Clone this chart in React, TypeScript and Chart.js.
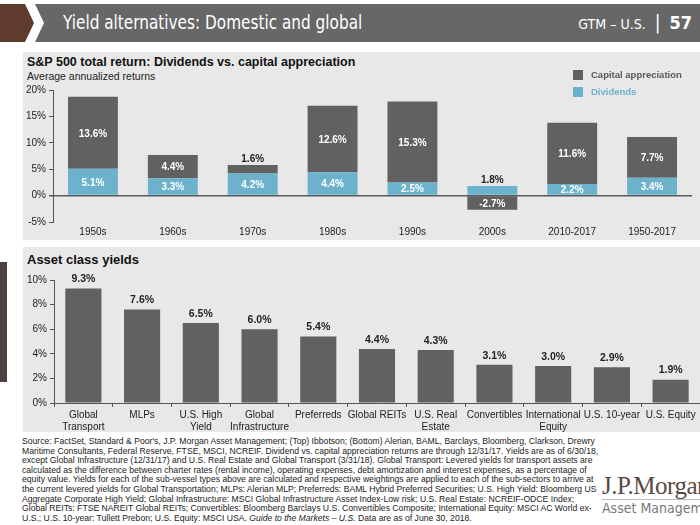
import React, { useEffect, useRef } from "react";
import { Chart, registerables } from "chart.js";
Chart.register(...registerables);

// ---------- data ----------
const decades = ["1950s", "1960s", "1970s", "1980s", "1990s", "2000s", "2010-2017", "1950-2017"];
const capitalAppreciation = [13.6, 4.4, 1.6, 12.6, 15.3, -2.7, 11.6, 7.7];
const dividends = [5.1, 3.3, 4.2, 4.4, 2.5, 1.8, 2.2, 3.4];
const returnTicks = [-5, 0, 5, 10, 15, 20];

const assetClasses: (string | string[])[] = [
  ["Global", "Transport"],
  "MLPs",
  ["U.S. High", "Yield"],
  ["Global", "Infrastructure"],
  "Preferreds",
  "Global REITs",
  ["U.S. Real", "Estate"],
  "Convertibles",
  ["International", "Equity"],
  "U.S. 10-year",
  "U.S. Equity",
];
const assetYields = [9.3, 7.6, 6.5, 6.0, 5.4, 4.4, 4.3, 3.1, 3.0, 2.9, 1.9];
const yieldTicks = [0, 2, 4, 6, 8, 10];

// ---------- styles ----------
const FONT = "'Liberation Sans', Arial, sans-serif";
const NARROW = "'Liberation Sans Narrow', 'DejaVu Sans Condensed', sans-serif";
const DARK = "#616161";
const BLUE = "#6cb2cd";
const AXIS = "#555555";
const TEXT = "#222222";
const PANEL = "#e8e8e8";

const topLabels = {
  id: "topLabels",
  afterDatasetsDraw(chart: any) {
    const ctx = chart.ctx;
    ctx.save();
    ctx.font = `bold 10px ${FONT}`;
    ctx.textAlign = "center";
    chart.data.datasets.forEach((ds: any, di: number) => {
      const meta = chart.getDatasetMeta(di);
      meta.data.forEach((el: any, i: number) => {
        const v = ds.data[i];
        const h = Math.abs(el.base - el.y);
        const txt = v.toFixed(1) + "%";
        if (h >= 10.5) {
          ctx.fillStyle = "#ffffff";
          ctx.textBaseline = "middle";
          ctx.fillText(txt, el.x, (el.y + el.base) / 2 + 1);
        } else {
          ctx.fillStyle = TEXT;
          ctx.textBaseline = "bottom";
          ctx.fillText(txt, el.x, Math.min(el.y, el.base) - 1);
        }
      });
    });
    ctx.restore();
  },
};

const bottomLabels = {
  id: "bottomLabels",
  afterDatasetsDraw(chart: any) {
    const ctx = chart.ctx;
    ctx.save();
    ctx.font = `bold 10.5px ${FONT}`;
    ctx.textAlign = "center";
    ctx.textBaseline = "bottom";
    ctx.fillStyle = TEXT;
    const ds = chart.data.datasets[0];
    chart.getDatasetMeta(0).data.forEach((el: any, i: number) => {
      ctx.fillText(ds.data[i].toFixed(1) + "%", el.x, el.y - 4);
    });
    ctx.restore();
  },
};

function TopChart() {
  const ref = useRef<HTMLCanvasElement>(null);
  useEffect(() => {
    const chart = new Chart(ref.current!, {
      type: "bar",
      data: {
        labels: decades,
        datasets: [
          { label: "Dividends", data: dividends, backgroundColor: BLUE, stack: "s" },
          { label: "Capital appreciation", data: capitalAppreciation, backgroundColor: DARK, stack: "s" },
        ],
      },
      options: {
        animation: false,
        responsive: false,
        maintainAspectRatio: false,
        layout: { padding: { top: 38, right: 8, bottom: 0, left: 0 } },
        datasets: { bar: { barPercentage: 0.625, categoryPercentage: 1 } },
        plugins: { legend: { display: false }, tooltip: { enabled: false } },
        scales: {
          x: {
            stacked: true,
            grid: { display: false, drawTicks: false },
            border: { display: false },
            ticks: { font: { family: FONT, size: 10 }, color: TEXT, padding: 4 },
            afterFit: (s: any) => {
              s.height = 18;
            },
          },
          y: {
            stacked: true,
            min: -5,
            max: 20,
            afterBuildTicks: (s: any) => {
              s.ticks = returnTicks.map((v) => ({ value: v }));
            },
            ticks: { font: { family: FONT, size: 10 }, color: TEXT, padding: 3, callback: (v: any) => v + "%" },
            grid: {
              color: (c: any) => (c.tick && c.tick.value === 0 ? "#5a5a5a" : "rgba(0,0,0,0)"),
              lineWidth: (c: any) => (c.tick && c.tick.value === 0 ? 1.5 : 1),
              tickColor: AXIS,
              tickLength: 4,
            },
            border: { display: true, color: AXIS },
            afterFit: (s: any) => {
              s.width = 30;
            },
          },
        },
      } as any,
      plugins: [topLabels],
    });
    return () => chart.destroy();
  }, []);
  return (
    <canvas
      ref={ref}
      width={677}
      height={188}
      style={{ position: "absolute", left: 23, top: 52, width: 677, height: 188 }}
    />
  );
}

function BottomChart() {
  const ref = useRef<HTMLCanvasElement>(null);
  useEffect(() => {
    const chart = new Chart(ref.current!, {
      type: "bar",
      data: {
        labels: assetClasses,
        datasets: [{ label: "Yield", data: assetYields, backgroundColor: DARK }],
      },
      options: {
        animation: false,
        responsive: false,
        maintainAspectRatio: false,
        layout: { padding: { top: 33, right: 0, bottom: 0, left: 0 } },
        datasets: { bar: { barPercentage: 0.615, categoryPercentage: 1 } },
        plugins: { legend: { display: false }, tooltip: { enabled: false } },
        scales: {
          x: {
            grid: { drawOnChartArea: false, drawTicks: true, tickLength: 4, tickColor: AXIS, offset: true },
            border: { display: true, color: AXIS },
            ticks: { font: { family: FONT, size: 10 }, color: TEXT, padding: 2, maxRotation: 0, autoSkip: false },
            afterFit: (s: any) => {
              s.height = 29;
            },
          },
          y: {
            min: 0,
            max: 10,
            afterBuildTicks: (s: any) => {
              s.ticks = yieldTicks.map((v) => ({ value: v }));
            },
            ticks: { font: { family: FONT, size: 10 }, color: TEXT, padding: 3, callback: (v: any) => v + "%" },
            grid: { drawOnChartArea: false, tickColor: AXIS, tickLength: 4 },
            border: { display: true, color: AXIS },
            afterFit: (s: any) => {
              s.width = 31;
            },
          },
        },
      } as any,
      plugins: [bottomLabels],
    });
    return () => chart.destroy();
  }, []);
  return (
    <canvas
      ref={ref}
      width={677}
      height={185}
      style={{ position: "absolute", left: 23, top: 247, width: 677, height: 185 }}
    />
  );
}

const footerLines: React.ReactNode[] = [
  "Source: FactSet, Standard & Poor's, J.P. Morgan Asset Management; (Top) Ibbotson; (Bottom) Alerian, BAML, Barclays, Bloomberg, Clarkson, Drewry",
  "Maritime Consultants, Federal Reserve, FTSE, MSCI, NCREIF. Dividend vs. capital appreciation returns are through 12/31/17. Yields are as of 6/30/18,",
  "except Global Infrastructure (12/31/17) and U.S. Real Estate and Global Transport (3/31/18). Global Transport: Levered yields for transport assets are",
  "calculated as the difference between charter rates (rental income), operating expenses, debt amortization and interest expenses, as a percentage of",
  "equity value. Yields for each of the sub-vessel types above are calculated and respective weightings are applied to each of the sub-sectors to arrive at",
  "the current levered yields for Global Transportation; MLPs: Alerian MLP; Preferreds: BAML Hybrid Preferred Securities; U.S. High Yield: Bloomberg US",
  "Aggregate Corporate High Yield; Global Infrastructure: MSCI Global Infrastructure Asset Index-Low risk; U.S. Real Estate: NCREIF-ODCE Index;",
  "Global REITs: FTSE NAREIT Global REITs; Convertibles: Bloomberg Barclays U.S. Convertibles Composite; International Equity: MSCI AC World ex-",
  <>
    U.S.; U.S. 10-year: Tullett Prebon; U.S. Equity: MSCI USA. <i>Guide to the Markets – U.S.</i> Data are as of June 30, 2018.
  </>,
];

export default function App() {
  return (
    <div
      style={{
        position: "fixed",
        left: 0,
        top: 0,
        width: 700,
        height: 525,
        background: "#ffffff",
        overflow: "hidden",
        fontFamily: FONT,
      }}
    >
      {/* header */}
      <svg width={700} height={46} style={{ position: "absolute", left: 0, top: 0 }}>
        <polygon points="0,4 25,4 34,23 25,42 0,42" fill="#5f3b2d" />
        <polygon points="35,4 700,4 700,42 35,42 44,23" fill="#676767" />
      </svg>
      <div
        style={{
          position: "absolute",
          left: 63,
          top: 11,
          fontFamily: NARROW,
          fontSize: 19,
          lineHeight: "22px",
          color: "#ffffff",
          whiteSpace: "nowrap",
          transform: "scaleX(0.895)",
          transformOrigin: "left center",
        }}
      >
        Yield alternatives: Domestic and global
      </div>
      <div
        style={{
          position: "absolute",
          right: 8,
          top: 11,
          fontFamily: NARROW,
          color: "#ffffff",
          whiteSpace: "nowrap",
          lineHeight: "22px",
        }}
      >
        <span style={{ fontSize: 14 }}>GTM – U.S.</span>
        <span style={{ fontSize: 19, margin: "0 9px" }}>|</span>
        <span style={{ fontSize: 18, fontWeight: "bold" }}>57</span>
      </div>

      {/* top panel */}
      <div style={{ position: "absolute", left: 23, top: 52, width: 677, height: 188, background: PANEL }} />
      <div
        style={{
          position: "absolute",
          left: 27,
          top: 55,
          fontSize: 12.5,
          fontWeight: "bold",
          color: "#111",
          whiteSpace: "nowrap",
          lineHeight: "15px",
        }}
      >
        S&amp;P 500 total return: Dividends vs. capital appreciation
      </div>
      <div
        style={{ position: "absolute", left: 27, top: 70, fontSize: 10.5, color: "#222", whiteSpace: "nowrap", lineHeight: "13px" }}
      >
        Average annualized returns
      </div>
      <TopChart />
      <div style={{ position: "absolute", left: 573, top: 70, width: 10, height: 10, background: DARK }} />
      <div
        style={{ position: "absolute", left: 591, top: 68.5, fontSize: 9.5, fontWeight: "bold", color: "#595959", lineHeight: "12px", whiteSpace: "nowrap" }}
      >
        Capital appreciation
      </div>
      <div style={{ position: "absolute", left: 573, top: 87, width: 10, height: 10, background: BLUE }} />
      <div
        style={{ position: "absolute", left: 591, top: 85.5, fontSize: 9.5, fontWeight: "bold", color: BLUE, lineHeight: "12px", whiteSpace: "nowrap" }}
      >
        Dividends
      </div>

      {/* side block */}
      <div style={{ position: "absolute", left: 0, top: 262, width: 7, height: 120, background: "#4b4240" }} />

      {/* bottom panel */}
      <div style={{ position: "absolute", left: 23, top: 247, width: 677, height: 185, background: PANEL }} />
      <div
        style={{ position: "absolute", left: 27, top: 252, fontSize: 13, fontWeight: "bold", color: "#111", whiteSpace: "nowrap", lineHeight: "16px" }}
      >
        Asset class yields
      </div>
      <BottomChart />

      {/* footer */}
      <div
        style={{
          position: "absolute",
          left: 22,
          top: 437,
          fontSize: 8.65,
          lineHeight: "9.6px",
          color: "#222",
          whiteSpace: "nowrap",
        }}
      >
        {footerLines.map((l, i) => (
          <div key={i}>{l}</div>
        ))}
      </div>

      {/* logo */}
      <div
        style={{
          position: "absolute",
          left: 602,
          top: 473,
          fontFamily: "'Liberation Serif', 'DejaVu Serif', serif",
          fontSize: 25,
          lineHeight: "25px",
          color: "#5a4a42",
          whiteSpace: "nowrap",
          letterSpacing: -0.5,
        }}
      >
        J.P.Morgan
      </div>
      <div style={{ position: "absolute", left: 602, top: 499, width: 98, height: 1, background: "#bbbbbb" }} />
      <div
        style={{
          position: "absolute",
          left: 602,
          top: 501,
          fontFamily: NARROW,
          fontSize: 14,
          lineHeight: "15px",
          color: "#777777",
          whiteSpace: "nowrap",
        }}
      >
        Asset Management
      </div>
    </div>
  );
}
